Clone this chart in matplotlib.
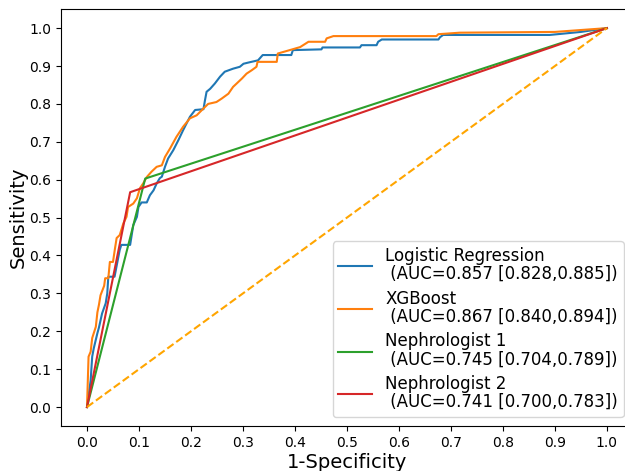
import matplotlib
matplotlib.use("Agg")
import matplotlib.pyplot as plt

# ROC points read for each model / reader
lr_fpr = [0, 0.007, 0.01, 0.013, 0.02, 0.023, 0.029, 0.036, 0.039, 0.041, 0.053,
          0.063, 0.066, 0.083, 0.089, 0.096, 0.099, 0.105, 0.115, 0.121, 0.128,
          0.134, 0.14, 0.144, 0.15, 0.156, 0.166, 0.176, 0.185, 0.198, 0.208,
          0.224, 0.227, 0.23, 0.237, 0.246, 0.256, 0.265, 0.281, 0.294, 0.301,
          0.313, 0.329, 0.338, 0.393, 0.396, 0.451, 0.453, 0.525, 0.528, 0.557,
          0.56, 0.567, 0.676, 0.679, 0.685, 0.89, 0.95, 1.0]
lr_tpr = [0, 0.07, 0.133, 0.155, 0.195, 0.21, 0.247, 0.274, 0.30, 0.344, 0.344,
          0.415, 0.428, 0.428, 0.48, 0.502, 0.528, 0.54, 0.54, 0.559, 0.572,
          0.59, 0.604, 0.608, 0.634, 0.656, 0.678, 0.705, 0.731, 0.766, 0.784,
          0.786, 0.81, 0.832, 0.84, 0.854, 0.872, 0.885, 0.893, 0.898, 0.906,
          0.91, 0.915, 0.929, 0.929, 0.942, 0.944, 0.949, 0.949, 0.955, 0.955,
          0.964, 0.97, 0.97, 0.976, 0.982, 0.982, 0.99, 1.0]

xgb_fpr = [0, 0.003, 0.007, 0.01, 0.017, 0.02, 0.023, 0.026, 0.033, 0.035, 0.041,
           0.044, 0.05, 0.054, 0.057, 0.063, 0.07, 0.076, 0.079, 0.089, 0.096,
           0.102, 0.108, 0.115, 0.124, 0.134, 0.144, 0.15, 0.16, 0.172, 0.185,
           0.198, 0.211, 0.224, 0.233, 0.249, 0.259, 0.272, 0.281, 0.288, 0.298,
           0.307, 0.317, 0.326, 0.328, 0.365, 0.367, 0.39, 0.41, 0.426, 0.458,
           0.461, 0.474, 0.672, 0.676, 0.717, 0.9, 1.0]
xgb_tpr = [0, 0.133, 0.146, 0.182, 0.212, 0.25, 0.27, 0.295, 0.32, 0.34, 0.34,
           0.383, 0.383, 0.42, 0.446, 0.454, 0.485, 0.502, 0.528, 0.537, 0.551,
           0.578, 0.59, 0.607, 0.621, 0.634, 0.638, 0.66, 0.683, 0.713, 0.74,
           0.762, 0.77, 0.788, 0.8, 0.805, 0.814, 0.827, 0.845, 0.854, 0.867,
           0.88, 0.889, 0.898, 0.911, 0.911, 0.933, 0.942, 0.95, 0.964, 0.964,
           0.973, 0.979, 0.979, 0.984, 0.988, 0.99, 1.0]

neph1_fpr = [0, 0.112, 1]
neph1_tpr = [0, 0.603, 1]
neph2_fpr = [0, 0.083, 1]
neph2_tpr = [0, 0.567, 1]

labels = [
    "Logistic Regression\n (AUC=0.857 [0.828,0.885])",
    "XGBoost\n (AUC=0.867 [0.840,0.894])",
    "Nephrologist 1\n (AUC=0.745 [0.704,0.789])",
    "Nephrologist 2\n (AUC=0.741 [0.700,0.783])",
]
ticks = [0.0, 0.1, 0.2, 0.3, 0.4, 0.5, 0.6, 0.7, 0.8, 0.9, 1.0]

fig = plt.figure(figsize=(6.25, 4.71), dpi=100)
ax = fig.add_axes([0.0976, 0.0955, 0.915, 0.885])

ax.plot(lr_fpr, lr_tpr, color="tab:blue", lw=1.5, label=labels[0])
ax.plot(xgb_fpr, xgb_tpr, color="tab:orange", lw=1.5, label=labels[1])
ax.plot(neph1_fpr, neph1_tpr, color="tab:green", lw=1.5, label=labels[2])
ax.plot(neph2_fpr, neph2_tpr, color="tab:red", lw=1.5, label=labels[3])
ax.plot([0, 1], [0, 1], color="orange", lw=1.5, linestyle="--")

ax.set_xlim(-0.05, 1.05)
ax.set_ylim(-0.05, 1.05)
ax.set_xticks(ticks)
ax.set_yticks(ticks)
ax.set_xlabel("1-Specificity", fontsize=14, labelpad=2)
ax.set_ylabel("Sensitivity", fontsize=14, labelpad=1)

leg = ax.legend(loc="lower right", fontsize=12, labelspacing=0.4,
                borderpad=0.35, borderaxespad=0.55)
for t in leg.get_texts():
    t.set_linespacing(1.0)

fig.savefig("out.png", dpi=100)
